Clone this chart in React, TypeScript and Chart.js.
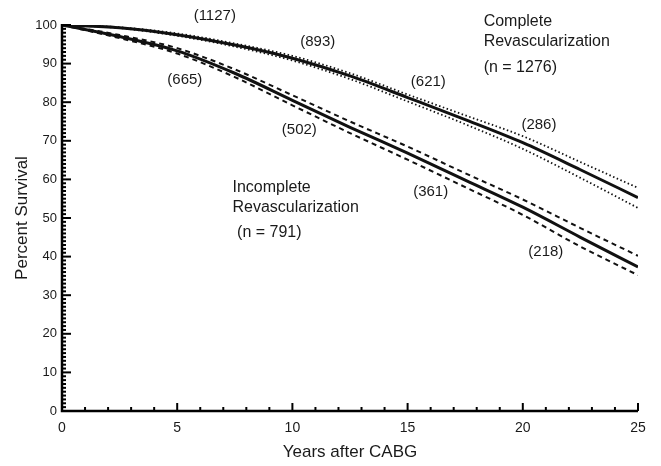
import React, { useEffect, useRef } from 'react';
import { Chart, registerables } from 'chart.js';

Chart.register(...registerables);

const years = [0, 2.5, 5, 7.5, 10, 12.5, 15, 17.5, 20, 22.5, 25];

const completeSurvival = [100, 99.3, 97.5, 94.8, 91.4, 86.8, 81.2, 75.5, 69.5, 62.5, 55.3];
const completeUpper = [100, 99.4, 97.8, 95.2, 92.0, 87.5, 82.0, 76.6, 71.2, 64.5, 57.8];
const completeLower = [100, 99.2, 97.2, 94.4, 90.8, 86.0, 80.2, 74.3, 67.9, 60.4, 52.6];

const incompleteSurvival = [100, 97.0, 93.3, 87.5, 80.5, 73.5, 66.8, 59.8, 52.8, 45.0, 37.3];
const incompleteUpper = [100, 97.4, 94.0, 88.5, 81.8, 75.0, 68.5, 61.6, 54.8, 47.4, 40.2];
const incompleteLower = [100, 96.6, 92.6, 86.5, 79.2, 72.0, 65.1, 58.0, 50.8, 42.6, 35.2];

const xTicks = [0, 5, 10, 15, 20, 25];
const yTicks = [0, 10, 20, 30, 40, 50, 60, 70, 80, 90, 100];

const atRiskLabels = ['(1127)', '(893)', '(621)', '(286)', '(665)', '(502)', '(361)', '(218)'];
const atRiskX = [6.63, 11.1, 15.9, 20.7, 5.33, 10.3, 16.0, 21.0];
const atRiskY = [102.3, 95.6, 85.2, 74.1, 85.8, 72.8, 56.7, 41.2];

const groupLines = ['Complete', 'Revascularization', '(n = 1276)', 'Incomplete', 'Revascularization', '(n = 791)'];
const groupX = [18.3, 18.3, 18.3, 7.4, 7.4, 7.6];
const groupY = [100.8, 95.6, 88.9, 58.0, 52.8, 46.1];

const FONT = '"Liberation Sans", Arial, Helvetica, sans-serif';

const toPoints = (ys: number[]) => years.map((x, i) => ({ x, y: ys[i] }));

const customPlugin = {
  id: 'customAxesAndLabels',
  afterDraw(chart: any) {
    const { ctx, chartArea, scales } = chart;
    const xs = scales.x;
    const ys = scales.y;
    ctx.save();
    ctx.strokeStyle = '#000';
    ctx.lineCap = 'butt';
    ctx.lineWidth = 2.5;
    ctx.beginPath();
    ctx.moveTo(chartArea.left, chartArea.top - 1);
    ctx.lineTo(chartArea.left, chartArea.bottom);
    ctx.lineTo(chartArea.right, chartArea.bottom);
    ctx.stroke();
    ctx.lineWidth = 2;
    for (let v = 0; v <= 100; v += 1) {
      const py = ys.getPixelForValue(v);
      const len = v % 10 === 0 ? 9 : 4;
      ctx.beginPath();
      ctx.moveTo(chartArea.left, py);
      ctx.lineTo(chartArea.left + len, py);
      ctx.stroke();
    }
    for (let v = 0; v <= 25; v += 1) {
      const px = xs.getPixelForValue(v);
      const len = v % 5 === 0 ? 8 : 4;
      ctx.beginPath();
      ctx.moveTo(px, chartArea.bottom);
      ctx.lineTo(px, chartArea.bottom - len);
      ctx.stroke();
    }
    ctx.fillStyle = '#1a1a1a';
    ctx.textBaseline = 'middle';
    ctx.font = '15px ' + FONT;
    ctx.textAlign = 'center';
    atRiskLabels.forEach((t, i) => {
      ctx.fillText(t, xs.getPixelForValue(atRiskX[i]), ys.getPixelForValue(atRiskY[i]));
    });
    ctx.font = '16px ' + FONT;
    ctx.textAlign = 'left';
    groupLines.forEach((t, i) => {
      ctx.fillText(t, xs.getPixelForValue(groupX[i]), ys.getPixelForValue(groupY[i]));
    });
    ctx.restore();
  },
};

export default function App() {
  const ref = useRef<HTMLCanvasElement | null>(null);
  useEffect(() => {
    document.body.style.margin = '0';
    if (!ref.current) return;
    const lineBase = {
      pointRadius: 0,
      fill: false,
      cubicInterpolationMode: 'monotone' as const,
      borderColor: '#111',
    };
    const chart = new Chart(ref.current, {
      type: 'line',
      data: {
        datasets: [
          { ...lineBase, label: 'Complete upper', data: toPoints(completeUpper), borderWidth: 1.8, borderDash: [1.5, 2.5] },
          { ...lineBase, label: 'Complete lower', data: toPoints(completeLower), borderWidth: 1.8, borderDash: [1.5, 2.5] },
          { ...lineBase, label: 'Complete Revascularization', data: toPoints(completeSurvival), borderWidth: 3 },
          { ...lineBase, label: 'Incomplete upper', data: toPoints(incompleteUpper), borderWidth: 2, borderDash: [5, 4] },
          { ...lineBase, label: 'Incomplete lower', data: toPoints(incompleteLower), borderWidth: 2, borderDash: [5, 4] },
          { ...lineBase, label: 'Incomplete Revascularization', data: toPoints(incompleteSurvival), borderWidth: 3 },
        ],
      },
      options: {
        animation: false,
        responsive: false,
        layout: { padding: { top: 25, right: 23, left: 0, bottom: 0 } },
        plugins: { legend: { display: false }, tooltip: { enabled: false } },
        scales: {
          x: {
            type: 'linear',
            min: 0,
            max: 25,
            afterFit: (s: any) => { s.height = 55; },
            afterBuildTicks: (s: any) => { s.ticks = xTicks.map((v) => ({ value: v })); },
            grid: { display: false, drawTicks: false },
            border: { display: false },
            ticks: { padding: 9, color: '#1a1a1a', font: { size: 14, family: FONT }, maxRotation: 0 },
            title: { display: true, text: 'Years after CABG', color: '#1a1a1a', font: { size: 17, family: FONT }, padding: { top: 4, bottom: 3 } },
          },
          y: {
            type: 'linear',
            min: 0,
            max: 100,
            afterFit: (s: any) => { s.width = 62; },
            afterBuildTicks: (s: any) => { s.ticks = yTicks.map((v) => ({ value: v })); },
            grid: { display: false, drawTicks: false },
            border: { display: false },
            ticks: { padding: 5, color: '#1a1a1a', font: { size: 13, family: FONT } },
            title: { display: true, text: 'Percent Survival', color: '#1a1a1a', font: { size: 17, family: FONT }, padding: { top: 12, bottom: 0 } },
          },
        },
      },
      plugins: [customPlugin],
    });
    return () => chart.destroy();
  }, []);
  return (
    <div style={{ width: 661, height: 466 }}>
      <canvas ref={ref} width={661} height={466} />
    </div>
  );
}
